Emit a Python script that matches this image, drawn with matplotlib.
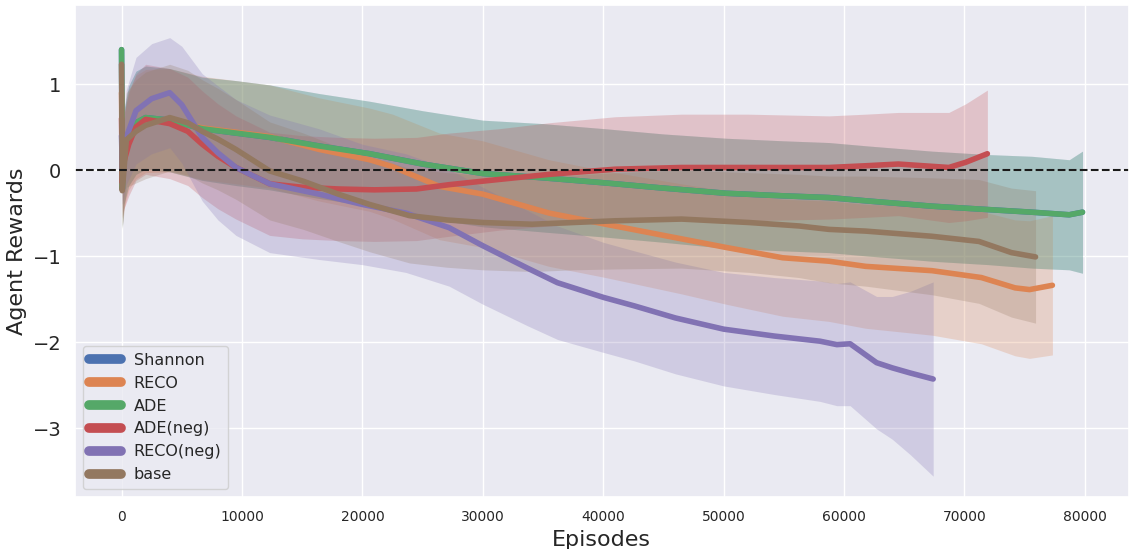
import numpy as np
import matplotlib
matplotlib.use("Agg")
import matplotlib.pyplot as plt
import seaborn as sns

sns.set_theme(style="darkgrid")
plt.rcParams['font.family'] = ['DejaVu Sans']

# mean reward and spread over runs, sampled along the training episodes
ade_x = [0, 60, 200, 600, 1200, 2000, 4000, 6700, 9500, 12300, 16400, 20600, 25000, 30000,
         35000, 40200, 45000, 50200, 55000, 58750, 62000, 67300, 72000, 75600, 78700, 79800]
ade_mean = [1.40, -0.22, 0.15, 0.40, 0.55, 0.61, 0.58, 0.48, 0.43, 0.38, 0.28, 0.19, 0.07, -0.04,
            -0.09, -0.15, -0.21, -0.27, -0.30, -0.32, -0.36, -0.42, -0.46, -0.49, -0.52, -0.49]
ade_std = [0.05, 0.45, 0.55, 0.58, 0.6, 0.6, 0.6, 0.6, 0.61, 0.61, 0.61, 0.61, 0.62, 0.62,
           0.63, 0.63, 0.63, 0.64, 0.64, 0.64, 0.64, 0.64, 0.64, 0.65, 0.64, 0.71]

# Shannon run shares the ADE curve
shannon_x = ade_x
shannon_mean = ade_mean
shannon_std = ade_std

reco_x = [0, 60, 200, 600, 1200, 2000, 4000, 6700, 9500, 12300, 16400, 20600, 22500, 26400,
          30000, 35500, 40200, 46500, 50200, 54900, 58750, 61800, 67300, 71400, 74200, 75400, 77300]
reco_mean = [0.9, -0.2, 0.1, 0.35, 0.5, 0.57, 0.58, 0.49, 0.44, 0.39, 0.24, 0.12, 0.04, -0.19,
             -0.28, -0.50, -0.63, -0.80, -0.90, -1.02, -1.06, -1.12, -1.17, -1.25, -1.37, -1.39, -1.34]
reco_std = [0.05, 0.45, 0.55, 0.58, 0.6, 0.6, 0.6, 0.6, 0.6, 0.6, 0.6, 0.6, 0.61, 0.62,
            0.62, 0.62, 0.62, 0.64, 0.66, 0.68, 0.7, 0.72, 0.75, 0.77, 0.79, 0.8, 0.81]

adeneg_x = [0, 60, 200, 600, 1200, 2000, 4000, 5500, 6700, 8000, 9500, 12300, 15000, 18000,
            21000, 24500, 27200, 31300, 35500, 41000, 46500, 52000, 58750, 61800, 64500, 68700,
            70100, 71900]
adeneg_mean = [0.6, -0.15, 0.1, 0.3, 0.5, 0.59, 0.54, 0.45, 0.30, 0.16, 0.03, -0.16, -0.20, -0.22,
               -0.23, -0.22, -0.17, -0.11, -0.05, 0.01, 0.03, 0.03, 0.03, 0.05, 0.07, 0.03,
               0.09, 0.19]
adeneg_std = [0.1, 0.4, 0.55, 0.6, 0.62, 0.64, 0.64, 0.63, 0.62, 0.61, 0.6, 0.6, 0.6, 0.6,
              0.6, 0.6, 0.6, 0.59, 0.6, 0.61, 0.62, 0.62, 0.6, 0.6, 0.6, 0.64, 0.68, 0.74]

reconeg_x = [0, 60, 390, 1200, 2500, 4000, 5000, 6700, 8000, 9500, 12300, 16400, 20000, 23600,
             27200, 30000, 33700, 36200, 40000, 42600, 46000, 50000, 54200, 58000, 59400, 60500,
             62700, 64000, 65500, 67400]
reconeg_mean = [0.4, 0.0, 0.38, 0.69, 0.83, 0.90, 0.76, 0.38, 0.20, 0.03, -0.16, -0.28, -0.40, -0.50,
                -0.67, -0.88, -1.14, -1.31, -1.48, -1.58, -1.72, -1.85, -1.93, -1.99, -2.03, -2.02,
                -2.24, -2.30, -2.36, -2.43]
reconeg_std = [0.1, 0.4, 0.55, 0.62, 0.64, 0.64, 0.68, 0.74, 0.78, 0.79, 0.8, 0.76, 0.7, 0.69,
               0.68, 0.68, 0.67, 0.66, 0.64, 0.64, 0.65, 0.66, 0.68, 0.7, 0.71, 0.72,
               0.77, 0.83, 0.95, 1.13]

base_x = [0, 60, 400, 1200, 2000, 4000, 5500, 6700, 8000, 9500, 12300, 15100, 18000, 20600,
          23900, 27000, 30000, 34100, 37500, 41000, 46500, 52100, 56250, 58750, 61800, 67300,
          71200, 73900, 75900]
base_mean = [1.23, -0.24, 0.35, 0.45, 0.52, 0.61, 0.55, 0.45, 0.36, 0.24, -0.01, -0.13, -0.28, -0.40,
             -0.53, -0.58, -0.61, -0.63, -0.61, -0.59, -0.57, -0.61, -0.65, -0.69, -0.71, -0.77,
             -0.83, -0.96, -1.01]
base_std = [0.05, 0.45, 0.55, 0.6, 0.62, 0.62, 0.61, 0.6, 0.59, 0.58, 0.57, 0.56, 0.55, 0.55,
            0.55, 0.55, 0.55, 0.55, 0.55, 0.56, 0.57, 0.58, 0.6, 0.62, 0.64, 0.68,
            0.72, 0.75, 0.77]

labels = ['Shannon', 'RECO', 'ADE', 'ADE(neg)', 'RECO(neg)', 'base']
runs = [(shannon_x, shannon_mean, shannon_std),
        (reco_x, reco_mean, reco_std),
        (ade_x, ade_mean, ade_std),
        (adeneg_x, adeneg_mean, adeneg_std),
        (reconeg_x, reconeg_mean, reconeg_std),
        (base_x, base_mean, base_std)]
colors = sns.color_palette()

fig = plt.figure(figsize=(11.3, 5.49), dpi=100)
ax = fig.add_axes([0.066, 0.095, 0.933, 0.896])

for i, (x, m, s) in enumerate(runs):
    x = np.array(x)
    m = np.array(m)
    s = np.array(s)
    ax.plot(x, m, color=colors[i], lw=4, label=labels[i], solid_capstyle='round')
    ax.fill_between(x, m - s, m + s, color=colors[i], alpha=0.25, lw=0)

ax.axhline(0, color='k', ls='--', lw=1.5)
ax.set_xlim(-3900, 83650)
ax.set_ylim(-3.8, 1.92)
ax.set_yticks([-3, -2, -1, 0, 1])
ax.tick_params(axis='y', labelsize=14)
ax.tick_params(axis='x', labelsize=10)
ax.set_xlabel('Episodes', fontsize=16)
ax.set_ylabel('Agent Rewards', fontsize=16)

leg = ax.legend(loc='lower left', fontsize=11.5)
for line in leg.get_lines():
    line.set_linewidth(7)

fig.savefig('out.png', dpi=100)
